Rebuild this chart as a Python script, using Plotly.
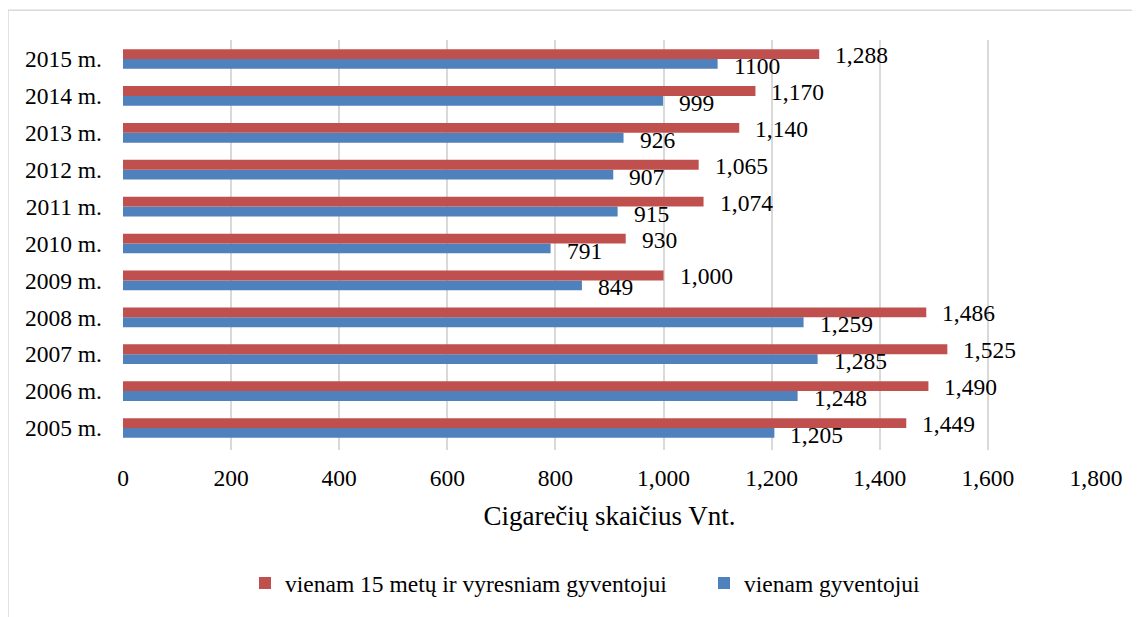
import plotly.graph_objects as go

years = ["2005 m.", "2006 m.", "2007 m.", "2008 m.", "2009 m.", "2010 m.",
         "2011 m.", "2012 m.", "2013 m.", "2014 m.", "2015 m."]
per_15plus = [1449, 1490, 1525, 1486, 1000, 930, 1074, 1065, 1140, 1170, 1288]
per_resident = [1205, 1248, 1285, 1259, 849, 791, 915, 907, 926, 999, 1100]
labels_15plus = ["1,449", "1,490", "1,525", "1,486", "1,000", "930",
                 "1,074", "1,065", "1,140", "1,170", "1,288"]
labels_resident = ["1,205", "1,248", "1,285", "1,259", "849", "791",
                   "915", "907", "926", "999", "1100"]
x_ticks = [0, 200, 400, 600, 800, 1000, 1200, 1400, 1600, 1800]

RED = "#C0504D"
BLUE = "#4F81BD"
FONT = "Times New Roman, Liberation Serif, serif"
FS = 23.5

fig = go.Figure()
fig.add_trace(go.Bar(y=years, x=per_resident, orientation="h", name="vienam gyventojui",
                     marker=dict(color=BLUE, line=dict(width=0)), legend="legend2"))
fig.add_trace(go.Bar(y=years, x=per_15plus, orientation="h",
                     name="vienam 15 metų ir vyresniam gyventojui",
                     marker=dict(color=RED, line=dict(width=0)), legend="legend"))

annotations = []
for y, v, t in zip(years, per_15plus, labels_15plus):
    annotations.append(dict(x=v, y=y, text=t, showarrow=False, xanchor="left",
                            yanchor="middle", xshift=14, yshift=4,
                            font=dict(family=FONT, size=FS, color="#000")))
for y, v, t in zip(years, per_resident, labels_resident):
    annotations.append(dict(x=v, y=y, text=t, showarrow=False, xanchor="left",
                            yanchor="middle", xshift=14, yshift=-7,
                            font=dict(family=FONT, size=FS, color="#000")))

# page body has an 8px margin; figure sized/positioned so plot area spans x 123-1096, y 40-452
PW, PH = 973, 412
leg_common = dict(orientation="h", xanchor="left", y=(452 - 608) / PH, yanchor="bottom",
                  font=dict(family=FONT, size=FS), itemwidth=30)
fig.update_layout(
    width=1132, height=609,
    margin=dict(l=115, r=44, t=32, b=165),
    barmode="group", bargap=0.466, bargroupgap=0,
    plot_bgcolor="white", paper_bgcolor="white",
    font=dict(family=FONT, size=FS, color="#000"),
    annotations=annotations,
    showlegend=True,
    legend=dict(x=(245 - 123) / PW, **leg_common),
    legend2=dict(x=(704 - 123) / PW, **leg_common),
    shapes=[dict(type="rect", xref="paper", yref="paper",
                 x0=-115 / PW, x1=1.2, y0=-0.6, y1=1 + 30 / PH,
                 line=dict(color="#D9D9D9", width=1.5), layer="below")],
)
fig.update_xaxes(range=[0, 1800], tickvals=x_ticks, tickformat=",",
                 showgrid=True, gridcolor="#D9D9D9", gridwidth=1.5,
                 zeroline=False, showline=False, ticks="",
                 ticklabelstandoff=11,
                 title=dict(text="Cigarečių skaičius Vnt.", font=dict(family=FONT, size=27),
                            standoff=16),
                 tickfont=dict(family=FONT, size=FS))
fig.update_yaxes(showgrid=False, zeroline=False, showline=False, ticks="",
                 ticklabelstandoff=20, tickfont=dict(family=FONT, size=FS))

fig.write_html("out.html")
